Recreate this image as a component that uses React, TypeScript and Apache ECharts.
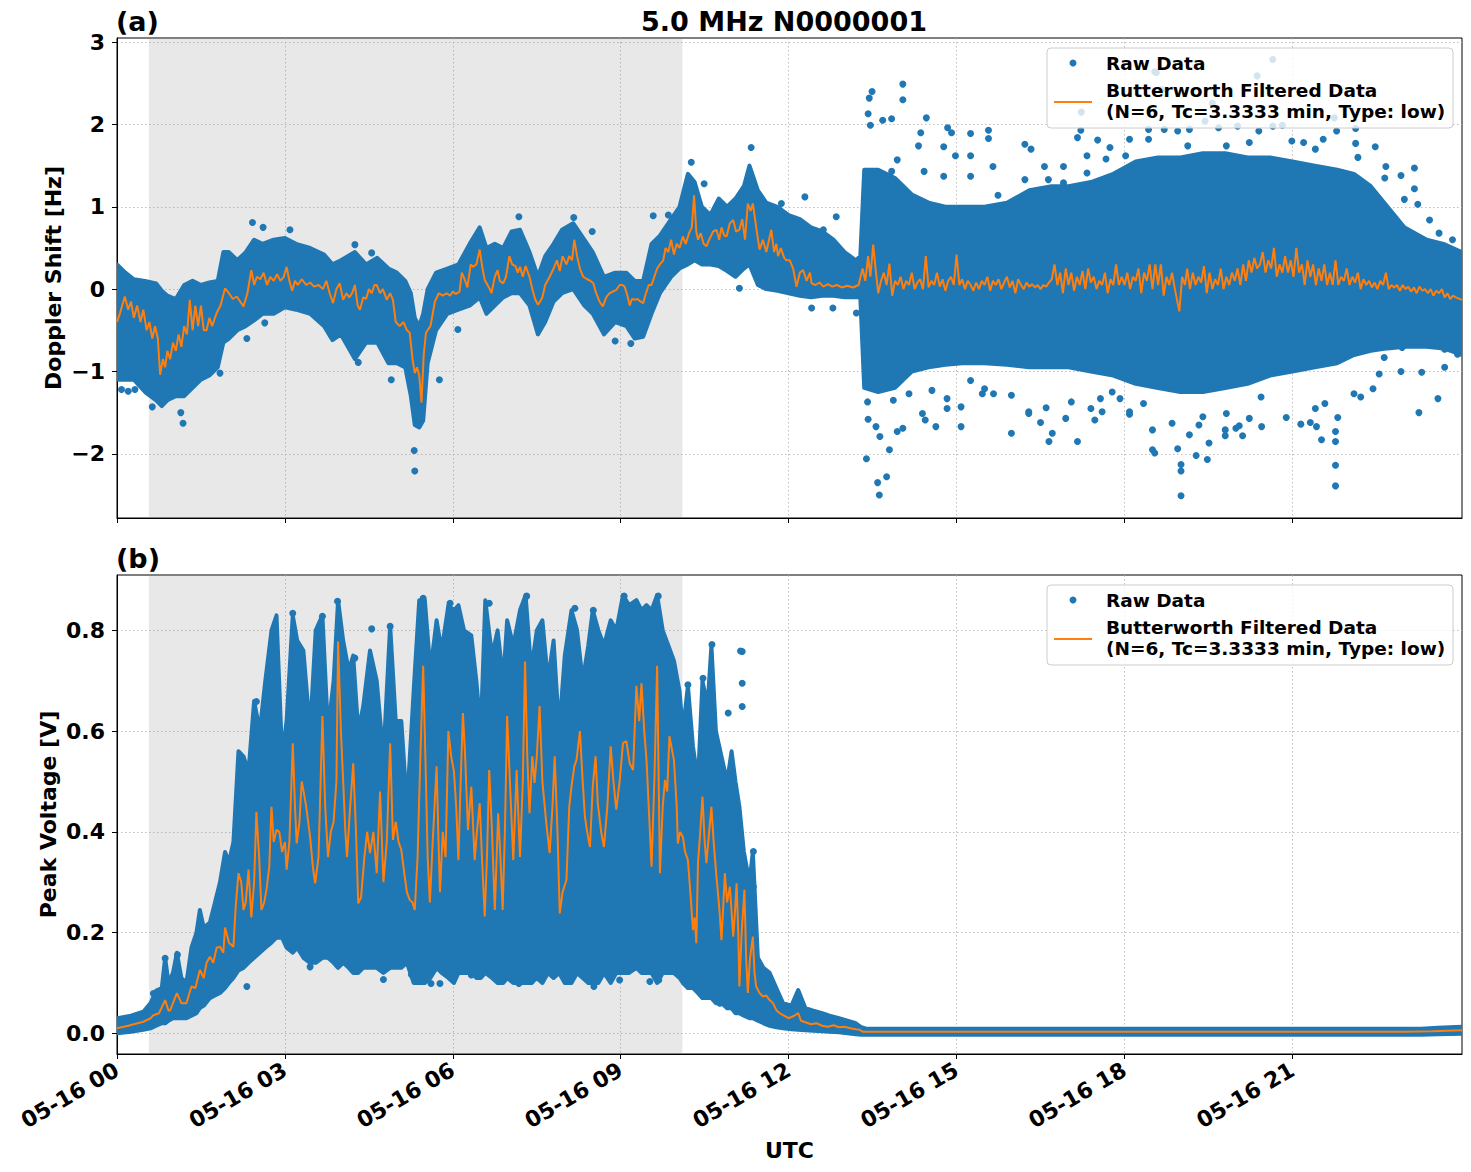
import React, { useEffect, useRef } from 'react';
import * as echarts from 'echarts';

const BLUE = '#1f77b4';
const ORANGE = '#ff7f0e';
const FONT = '"DejaVu Sans", "Liberation Sans", sans-serif';

const TITLE = '5.0 MHz N0000001';
const hourTicks = [0, 3, 6, 9, 12, 15, 18, 21];
const dopplerTicks = [-2, -1, 0, 1, 2, 3];
const voltageTicks = [0, 0.2, 0.4, 0.6, 0.8];
const nightSpan = [0.57, 10.1];
const legendRaw = 'Raw Data';
const legendFiltered = 'Butterworth Filtered Data';
const legendFilteredParams = '(N=6, Tc=3.3333 min, Type: low)';

// Doppler shift: dense raw cloud [hour, upper, lower]
const dopplerEnvelope: [number, number, number][] = [
  [0, 0.3, -1.1], [0.15, 0.2, -1.1], [0.3, 0.12, -1.1], [0.5, 0.1, -1.25], [0.7, 0.07, -1.35], [0.8, -0.02, -1.42], [0.9, -0.08, -1.35], [1.05, -0.12, -1.3], [1.2, 0.05, -1.3], [1.35, 0.1, -1.2],
  [1.5, 0.05, -1.1], [1.65, 0.08, -1.05], [1.8, 0.1, -0.95], [1.9, 0.45, -0.65], [2.0, 0.45, -0.6], [2.15, 0.35, -0.5], [2.3, 0.45, -0.45], [2.45, 0.6, -0.38], [2.6, 0.55, -0.3], [2.8, 0.6, -0.3],
  [3.0, 0.62, -0.22], [3.2, 0.55, -0.25], [3.45, 0.5, -0.3], [3.7, 0.42, -0.45], [3.85, 0.3, -0.62], [4.0, 0.35, -0.55], [4.25, 0.45, -0.85], [4.45, 0.3, -0.65], [4.65, 0.38, -0.65], [4.85, 0.25, -0.9],
  [5.0, 0.2, -0.9], [5.15, 0.1, -0.95], [5.25, -0.05, -1.3], [5.32, -0.35, -1.65], [5.4, -0.45, -1.68], [5.47, -0.3, -1.6], [5.55, 0.0, -0.9], [5.7, 0.2, -0.5], [5.9, 0.25, -0.3], [6.1, 0.3, -0.25],
  [6.3, 0.55, -0.2], [6.48, 0.75, -0.1], [6.6, 0.5, -0.3], [6.75, 0.55, -0.2], [6.9, 0.5, -0.1], [7.05, 0.7, -0.05], [7.2, 0.72, -0.05], [7.37, 0.45, -0.2], [7.52, 0.15, -0.55], [7.65, 0.4, -0.4],
  [7.8, 0.55, -0.15], [7.95, 0.72, -0.05], [8.15, 0.8, 0.0], [8.35, 0.6, -0.2], [8.5, 0.45, -0.3], [8.7, 0.15, -0.55], [8.9, 0.2, -0.4], [9.1, 0.2, -0.45], [9.25, 0.1, -0.6], [9.4, 0.1, -0.58],
  [9.55, 0.55, -0.3], [9.7, 0.65, -0.05], [9.9, 0.85, 0.15], [10.05, 1.0, 0.25], [10.2, 1.4, 0.3], [10.32, 1.3, 0.35], [10.45, 1.0, 0.3], [10.6, 0.9, 0.3], [10.75, 1.1, 0.28], [10.9, 1.0, 0.22],
  [11.05, 1.1, 0.15], [11.2, 1.25, 0.25], [11.3, 1.5, 0.3], [11.45, 1.2, 0.05], [11.6, 1.05, 0.0], [11.8, 1.0, -0.02], [12.0, 0.9, -0.05], [12.2, 0.85, -0.08], [12.4, 0.75, -0.1], [12.6, 0.7, -0.08],
  [12.8, 0.6, -0.08], [13.0, 0.45, -0.1], [13.2, 0.35, -0.1], [13.28, 0.4, -0.1], [13.35, 1.45, -1.2], [13.6, 1.45, -1.25], [13.9, 1.35, -1.2], [14.2, 1.15, -1.0], [14.5, 1.05, -0.95], [14.8, 1.0, -0.92],
  [15.1, 1.0, -0.9], [15.5, 1.0, -0.9], [15.9, 1.05, -0.92], [16.3, 1.2, -0.95], [16.7, 1.25, -0.95], [17.0, 1.25, -0.95], [17.4, 1.3, -1.0], [17.8, 1.4, -1.05], [18.2, 1.55, -1.15], [18.6, 1.6, -1.2],
  [19.0, 1.6, -1.25], [19.4, 1.65, -1.25], [19.8, 1.65, -1.2], [20.2, 1.6, -1.15], [20.6, 1.6, -1.05], [21.0, 1.55, -1.0], [21.4, 1.5, -0.95], [21.8, 1.45, -0.9], [22.1, 1.4, -0.8], [22.4, 1.25, -0.75],
  [22.7, 1.0, -0.72], [23.0, 0.75, -0.7], [23.4, 0.6, -0.7], [23.7, 0.55, -0.72], [24.03, 0.45, -0.8],
];

// Doppler shift: isolated raw points outside the dense cloud [hour, Hz]
const dopplerOutliers: [number, number][] = [
  [0.08, -1.22], [0.2, -1.24], [0.32, -1.22], [1.18, -1.63], [1.14, -1.5], [0.63, -1.43], [2.61, 0.75], [3.09, 0.72], [2.42, 0.81],
  [4.25, 0.54], [4.55, 0.44], [4.9, -1.1], [5.76, -1.1], [5.32, -2.21], [5.31, -1.96], [2.64, -0.41], [3.63, -0.36], [2.32, -0.6],
  [1.84, -1.02], [4.31, -0.89], [7.18, 0.88], [8.16, 0.87], [8.49, 0.7], [9.58, 0.89], [9.85, 0.9], [11.33, 1.72], [10.49, 1.28],
  [10.26, 1.54], [6.09, -0.49], [8.9, -0.63], [9.18, -0.66], [11.12, 0.01], [11.87, 1.04], [12.29, 1.12], [12.85, 0.88], [12.62, 0.72],
  [12.41, -0.23], [12.79, -0.23], [13.21, -0.29],
  [14.04, 2.49], [14.04, 2.3], [13.49, 2.4], [13.44, 2.32], [13.42, 2.13], [13.46, 1.99], [13.68, 2.05], [13.84, 2.07], [14.46, 2.08],
  [14.84, 1.96], [14.91, 1.9], [15.25, 1.89], [15.57, 1.93], [15.57, 1.83], [14.36, 1.9], [14.32, 1.74], [14.77, 1.73], [14.98, 1.62],
  [15.25, 1.62], [16.22, 1.76], [16.33, 1.7], [15.65, 1.49], [15.74, 1.14], [17.16, 1.84], [17.22, 1.93], [17.52, 1.81], [17.33, 1.62],
  [17.74, 1.72], [16.57, 1.49], [16.91, 1.49], [18.54, 2.64], [18.43, 1.94], [18.71, 1.94], [18.43, 1.82], [18.95, 1.92], [19.16, 1.94],
  [19.44, 2.04], [19.68, 1.96], [20.02, 1.98], [20.37, 2.59], [20.65, 2.79], [20.4, 1.92], [20.65, 1.98], [20.82, 1.99], [20.99, 1.8],
  [21.2, 1.78], [21.75, 2.08], [21.79, 1.92], [22.13, 1.95], [22.13, 1.77], [22.48, 1.73], [22.67, 1.49], [23.18, 1.47], [22.94, 1.38],
  [23.18, 1.22], [23.0, 1.09], [23.24, 1.03], [22.65, 1.35], [22.17, 1.6], [21.55, 1.82], [21.41, 1.7], [20.23, 1.78], [19.82, 1.74],
  [19.13, 1.74], [18.02, 1.62], [17.67, 1.58], [18.09, 1.82], [14.77, 1.37], [13.94, 1.57], [13.84, 1.43], [14.42, 1.43], [15.25, 1.37],
  [16.22, 1.33], [16.64, 1.33], [16.91, 1.29], [17.33, 1.41], [18.57, 2.63], [19.57, 2.26], [17.23, 2.15], [18.66, 2.42],
  [23.45, 0.84], [23.62, 0.68], [23.86, 0.6],
  [13.39, -2.06], [13.59, -2.35], [13.62, -2.5], [13.75, -2.28], [13.63, -1.79], [13.8, -1.95], [13.94, -1.73], [14.04, -1.69], [13.56, -1.67],
  [13.42, -1.58], [13.41, -1.37], [13.87, -1.35], [14.15, -1.27], [14.39, -1.51], [14.44, -1.59], [14.63, -1.67], [14.83, -1.45], [14.83, -1.33],
  [15.08, -1.43], [15.08, -1.67], [15.25, -1.11], [15.5, -1.21], [15.66, -1.27], [15.98, -1.75], [15.98, -1.29], [16.29, -1.51], [16.5, -1.62],
  [16.6, -1.44], [16.65, -1.85], [16.71, -1.75], [16.95, -1.57], [17.16, -1.85], [17.05, -1.37], [17.4, -1.45], [17.47, -1.59], [17.57, -1.33],
  [17.78, -1.25], [17.92, -1.33], [18.09, -1.49], [18.34, -1.39], [18.5, -1.71], [18.5, -1.95], [18.54, -1.99], [18.85, -1.63], [18.95, -1.94],
  [19.01, -2.13], [19.01, -2.21], [19.01, -2.51], [19.16, -1.77], [19.28, -2.02], [19.33, -1.65], [19.48, -2.07], [19.51, -1.87], [19.8, -1.71],
  [19.8, -1.78], [20.11, -1.78], [19.99, -1.69], [20.23, -1.57], [20.45, -1.67], [20.89, -1.56], [21.15, -1.64], [21.32, -1.62], [21.43, -1.67],
  [21.52, -1.83], [21.77, -1.73], [21.77, -1.85], [21.77, -2.14], [21.77, -2.39], [21.81, -1.56], [21.58, -1.39], [21.41, -1.45], [22.22, -1.31],
  [22.44, -1.21], [22.55, -1.03], [22.94, -1.0], [23.26, -1.5], [23.6, -1.33], [23.72, -0.95], [23.31, -1.01], [22.96, -0.71], [23.72, -0.73],
  [22.1, -1.27], [20.44, -1.31], [19.82, -1.51], [19.4, -1.55], [17.6, -1.49], [16.29, -1.49], [15.46, -1.27], [14.56, -1.23],
  [18.09, -1.52], [20.05, -1.66], [22.64, -0.83], [23.95, -0.79],
];

// Doppler shift: Butterworth filtered curve [hour, Hz]
const dopplerFiltered: [number, number][] = [
  [0, -0.4], [0.05, -0.3], [0.14, -0.09], [0.2, -0.25], [0.25, -0.15], [0.3, -0.35], [0.36, -0.2], [0.42, -0.4], [0.47, -0.25], [0.53, -0.5],
  [0.58, -0.4], [0.63, -0.6], [0.68, -0.45], [0.73, -0.6], [0.77, -1.04], [0.82, -0.85], [0.86, -0.95], [0.9, -0.75], [0.95, -0.85], [1.0, -0.65],
  [1.05, -0.75], [1.1, -0.55], [1.15, -0.7], [1.2, -0.45], [1.25, -0.55], [1.3, -0.13], [1.35, -0.5], [1.4, -0.2], [1.45, -0.45], [1.5, -0.2],
  [1.55, -0.5], [1.6, -0.5], [1.65, -0.35], [1.7, -0.45], [1.78, -0.29], [1.85, -0.2], [1.93, 0.01], [2.0, -0.05], [2.07, -0.12], [2.14, -0.09],
  [2.2, -0.15], [2.26, -0.21], [2.33, -0.05], [2.4, 0.23], [2.45, 0.05], [2.5, 0.15], [2.56, 0.12], [2.62, 0.2], [2.68, 0.05], [2.74, 0.15],
  [2.8, 0.1], [2.86, 0.18], [2.92, 0.1], [2.98, 0.15], [3.03, 0.27], [3.08, 0.1], [3.13, -0.02], [3.18, 0.1], [3.23, 0.05], [3.3, 0.12],
  [3.38, 0.05], [3.45, 0.08], [3.52, 0.03], [3.6, 0.05], [3.68, 0.0], [3.74, 0.1], [3.8, -0.05], [3.86, -0.17], [3.92, 0.0], [3.98, 0.07],
  [4.04, -0.13], [4.1, -0.05], [4.15, -0.1], [4.2, -0.05], [4.25, 0.05], [4.3, -0.2], [4.34, -0.25], [4.4, -0.1], [4.45, -0.12], [4.5, 0.0],
  [4.55, -0.05], [4.6, 0.05], [4.64, 0.05], [4.7, -0.05], [4.75, 0.0], [4.82, -0.13], [4.88, -0.05], [4.93, -0.13], [4.98, -0.4], [5.05, -0.45],
  [5.12, -0.4], [5.18, -0.5], [5.23, -0.53], [5.28, -0.85], [5.32, -1.02], [5.36, -0.95], [5.4, -1.05], [5.44, -1.38], [5.48, -0.8], [5.52, -0.53],
  [5.6, -0.45], [5.68, -0.15], [5.75, -0.05], [5.82, -0.08], [5.89, -0.05], [5.95, -0.08], [6.0, -0.03], [6.05, -0.06], [6.12, -0.03], [6.16, 0.2],
  [6.21, 0.12], [6.26, 0.02], [6.32, 0.3], [6.36, 0.27], [6.42, 0.3], [6.48, 0.48], [6.53, 0.25], [6.57, 0.11], [6.62, 0.05], [6.66, 0.0],
  [6.69, -0.05], [6.75, 0.15], [6.8, 0.23], [6.84, 0.1], [6.9, 0.07], [6.95, 0.15], [7.01, 0.4], [7.06, 0.3], [7.12, 0.28], [7.16, 0.2],
  [7.2, 0.27], [7.25, 0.15], [7.3, 0.28], [7.37, 0.15], [7.42, 0.0], [7.47, -0.12], [7.52, -0.19], [7.56, -0.15], [7.6, -0.1], [7.65, 0.05],
  [7.73, 0.15], [7.8, 0.25], [7.86, 0.35], [7.91, 0.22], [7.96, 0.4], [8.03, 0.3], [8.08, 0.4], [8.13, 0.35], [8.17, 0.6], [8.22, 0.4],
  [8.27, 0.25], [8.33, 0.15], [8.4, 0.12], [8.46, 0.1], [8.51, 0.07], [8.56, -0.05], [8.62, -0.15], [8.68, -0.21], [8.74, -0.1], [8.8, -0.05],
  [8.86, -0.03], [8.92, -0.01], [8.98, 0.05], [9.03, 0.05], [9.07, 0.03], [9.12, -0.08], [9.16, -0.2], [9.2, -0.12], [9.25, -0.13], [9.3, -0.12],
  [9.35, -0.15], [9.4, -0.17], [9.45, -0.05], [9.5, 0.05], [9.55, 0.05], [9.6, 0.15], [9.65, 0.25], [9.7, 0.3], [9.76, 0.35], [9.8, 0.5],
  [9.85, 0.45], [9.9, 0.6], [9.95, 0.42], [10.0, 0.55], [10.05, 0.5], [10.11, 0.64], [10.16, 0.55], [10.22, 0.68], [10.27, 0.75], [10.31, 1.14],
  [10.35, 0.7], [10.38, 0.6], [10.43, 0.68], [10.48, 0.55], [10.53, 0.52], [10.58, 0.6], [10.65, 0.7], [10.71, 0.72], [10.76, 0.6], [10.8, 0.75],
  [10.85, 0.65], [10.89, 0.64], [10.95, 0.8], [11.01, 0.84], [11.06, 0.7], [11.12, 0.72], [11.17, 0.85], [11.22, 0.6], [11.27, 1.04], [11.32, 0.95],
  [11.36, 1.04], [11.42, 0.75], [11.48, 0.48], [11.54, 0.6], [11.6, 0.45], [11.65, 0.6], [11.69, 0.72], [11.74, 0.45], [11.78, 0.55], [11.81, 0.4],
  [11.86, 0.5], [11.92, 0.38], [11.96, 0.35], [12.02, 0.35], [12.08, 0.25], [12.14, 0.03], [12.2, 0.2], [12.26, 0.23], [12.32, 0.1], [12.38, 0.2],
  [12.41, 0.07], [12.48, 0.05], [12.55, 0.08], [12.62, 0.03], [12.7, 0.06], [12.78, 0.03], [12.86, 0.05], [12.95, 0.02], [13.05, 0.04], [13.15, 0.02],
  [13.25, 0.05], [13.32, 0.25], [13.37, 0.1], [13.42, 0.4], [13.46, 0.15], [13.51, 0.54], [13.56, 0.2], [13.6, -0.05], [13.65, 0.1], [13.7, 0.2],
  [13.75, 0.05], [13.8, 0.31], [13.85, -0.08], [13.9, 0.1], [13.95, 0.05], [14.0, 0.15], [14.05, 0.0], [14.1, 0.1], [14.15, 0.05], [14.2, 0.2],
  [14.25, 0.0], [14.3, 0.08], [14.35, 0.12], [14.4, 0.0], [14.45, 0.4], [14.5, 0.02], [14.55, 0.1], [14.6, 0.05], [14.65, 0.2], [14.7, 0.03],
  [14.75, 0.12], [14.8, -0.02], [14.85, 0.1], [14.9, 0.15], [14.95, 0.05], [15.0, 0.42], [15.05, 0.05], [15.1, 0.12], [15.15, 0.0], [15.2, 0.1],
  [15.25, 0.05], [15.3, -0.02], [15.35, 0.08], [15.4, 0.0], [15.45, 0.1], [15.5, 0.05], [15.55, 0.15], [15.6, -0.02], [15.65, 0.1], [15.7, 0.05],
  [15.75, 0.12], [15.8, 0.0], [15.85, 0.08], [15.9, 0.15], [15.95, 0.02], [16.0, 0.1], [16.05, -0.05], [16.1, 0.12], [16.15, 0.05], [16.2, 0.0],
  [16.25, 0.08], [16.3, 0.03], [16.35, 0.06], [16.4, 0.02], [16.45, 0.05], [16.5, 0.0], [16.55, 0.05], [16.6, 0.03], [16.65, 0.08], [16.7, 0.12],
  [16.75, 0.3], [16.8, 0.05], [16.85, 0.2], [16.9, -0.05], [16.95, 0.25], [17.0, 0.05], [17.05, 0.2], [17.1, -0.02], [17.15, 0.15], [17.2, 0.05],
  [17.25, 0.22], [17.3, 0.0], [17.35, 0.25], [17.4, 0.08], [17.45, 0.15], [17.5, 0.0], [17.55, 0.1], [17.6, 0.05], [17.65, 0.2], [17.7, -0.05],
  [17.75, 0.12], [17.8, 0.05], [17.85, 0.3], [17.9, 0.05], [17.95, 0.15], [18.0, 0.05], [18.05, 0.2], [18.1, 0.0], [18.15, 0.15], [18.2, 0.1],
  [18.25, 0.25], [18.3, -0.05], [18.35, 0.2], [18.4, 0.1], [18.45, 0.3], [18.5, 0.0], [18.55, 0.3], [18.6, 0.05], [18.65, 0.3], [18.7, -0.08],
  [18.75, 0.15], [18.8, 0.05], [18.85, 0.2], [18.9, 0.0], [18.98, -0.27], [19.03, 0.15], [19.08, 0.05], [19.12, 0.25], [19.17, 0.0], [19.22, 0.2],
  [19.27, 0.05], [19.32, 0.15], [19.37, 0.08], [19.42, 0.28], [19.47, -0.05], [19.52, 0.2], [19.57, 0.0], [19.62, 0.12], [19.67, 0.05], [19.72, 0.25],
  [19.77, 0.0], [19.82, 0.15], [19.87, 0.05], [19.92, 0.2], [19.97, 0.1], [20.02, 0.25], [20.07, 0.05], [20.12, 0.3], [20.17, 0.1], [20.22, 0.35],
  [20.27, 0.2], [20.32, 0.38], [20.37, 0.25], [20.42, 0.3], [20.47, 0.45], [20.52, 0.2], [20.57, 0.35], [20.62, 0.25], [20.67, 0.5], [20.72, 0.15],
  [20.77, 0.3], [20.82, 0.2], [20.87, 0.4], [20.92, 0.2], [20.97, 0.35], [21.02, 0.15], [21.07, 0.5], [21.12, 0.2], [21.17, 0.3], [21.22, 0.05],
  [21.27, 0.35], [21.32, 0.15], [21.37, 0.3], [21.42, 0.05], [21.47, 0.25], [21.52, 0.1], [21.57, 0.3], [21.62, 0.05], [21.67, 0.2], [21.72, 0.05],
  [21.77, 0.35], [21.82, 0.05], [21.87, 0.15], [21.92, 0.1], [21.97, 0.25], [22.02, 0.05], [22.07, 0.15], [22.12, 0.08], [22.17, 0.2], [22.22, 0.0],
  [22.27, 0.12], [22.32, 0.05], [22.37, 0.1], [22.42, 0.02], [22.47, 0.08], [22.52, 0.0], [22.57, 0.1], [22.62, 0.05], [22.67, 0.2], [22.72, 0.0],
  [22.77, 0.05], [22.82, 0.02], [22.87, 0.05], [22.92, -0.02], [22.97, 0.05], [23.02, 0.0], [23.07, 0.03], [23.12, -0.03], [23.17, 0.02], [23.22, -0.05],
  [23.27, 0.03], [23.32, -0.02], [23.37, 0.0], [23.42, -0.05], [23.47, 0.0], [23.52, -0.08], [23.57, -0.02], [23.62, -0.05], [23.67, 0.0], [23.72, -0.1],
  [23.77, -0.05], [23.82, -0.12], [23.87, -0.08], [23.92, -0.1], [24.03, -0.13],
];

// Peak voltage: dense raw cloud [hour, upper, lower]
const voltageEnvelope: [number, number, number][] = [
  [0, 0.03, 0.0], [0.25, 0.035, 0.003], [0.47, 0.043, 0.007], [0.6, 0.06, 0.01], [0.7, 0.085, 0.015], [0.8, 0.09, 0.02], [0.86, 0.15, 0.02], [0.92, 0.1, 0.025], [1.0, 0.12, 0.03], [1.07, 0.16, 0.03],
  [1.15, 0.11, 0.03], [1.24, 0.1, 0.03], [1.33, 0.17, 0.035], [1.42, 0.2, 0.04], [1.48, 0.245, 0.05], [1.55, 0.21, 0.055], [1.66, 0.22, 0.07], [1.75, 0.26, 0.075], [1.84, 0.3, 0.08], [1.93, 0.36, 0.09],
  [2.0, 0.34, 0.1], [2.08, 0.38, 0.11], [2.17, 0.56, 0.125], [2.26, 0.55, 0.13], [2.35, 0.52, 0.14], [2.45, 0.66, 0.15], [2.55, 0.6, 0.16], [2.65, 0.7, 0.17], [2.76, 0.8, 0.18], [2.85, 0.83, 0.19],
  [2.95, 0.55, 0.19], [3.03, 0.62, 0.17], [3.14, 0.83, 0.16], [3.22, 0.78, 0.17], [3.33, 0.76, 0.15], [3.45, 0.6, 0.14], [3.55, 0.8, 0.14], [3.67, 0.83, 0.15], [3.77, 0.6, 0.15], [3.87, 0.7, 0.14],
  [3.95, 0.86, 0.13], [4.04, 0.78, 0.14], [4.14, 0.72, 0.13], [4.22, 0.75, 0.12], [4.31, 0.6, 0.12], [4.4, 0.65, 0.13], [4.52, 0.76, 0.13], [4.64, 0.7, 0.13], [4.76, 0.55, 0.12], [4.88, 0.81, 0.13],
  [4.98, 0.62, 0.13], [5.08, 0.62, 0.13], [5.18, 0.45, 0.14], [5.3, 0.68, 0.1], [5.4, 0.86, 0.1], [5.5, 0.86, 0.1], [5.6, 0.72, 0.11], [5.71, 0.82, 0.13], [5.8, 0.76, 0.12], [5.92, 0.85, 0.11],
  [6.02, 0.84, 0.1], [6.1, 0.85, 0.12], [6.2, 0.8, 0.12], [6.33, 0.79, 0.12], [6.42, 0.7, 0.11], [6.5, 0.6, 0.11], [6.58, 0.86, 0.12], [6.7, 0.75, 0.11], [6.8, 0.8, 0.1], [6.9, 0.7, 0.1],
  [6.97, 0.82, 0.11], [7.08, 0.77, 0.1], [7.2, 0.84, 0.1], [7.3, 0.87, 0.1], [7.4, 0.72, 0.1], [7.5, 0.8, 0.11], [7.6, 0.82, 0.1], [7.7, 0.7, 0.12], [7.8, 0.78, 0.11], [7.9, 0.6, 0.12],
  [8.0, 0.75, 0.1], [8.12, 0.84, 0.1], [8.22, 0.8, 0.12], [8.32, 0.7, 0.11], [8.42, 0.77, 0.1], [8.5, 0.84, 0.1], [8.6, 0.8, 0.1], [8.7, 0.77, 0.12], [8.82, 0.82, 0.1], [8.92, 0.8, 0.12],
  [9.04, 0.87, 0.12], [9.15, 0.85, 0.12], [9.28, 0.86, 0.13], [9.37, 0.84, 0.12], [9.46, 0.85, 0.12], [9.55, 0.84, 0.12], [9.65, 0.87, 0.1], [9.75, 0.8, 0.12], [9.85, 0.77, 0.12], [9.95, 0.74, 0.12],
  [10.05, 0.68, 0.11], [10.11, 0.6, 0.1], [10.2, 0.69, 0.09], [10.29, 0.57, 0.09], [10.38, 0.5, 0.08], [10.46, 0.7, 0.07], [10.55, 0.65, 0.07], [10.62, 0.77, 0.07], [10.7, 0.6, 0.06], [10.8, 0.55, 0.06],
  [10.9, 0.5, 0.05], [10.98, 0.56, 0.05], [11.05, 0.5, 0.04], [11.12, 0.45, 0.04], [11.2, 0.36, 0.035], [11.3, 0.3, 0.03], [11.36, 0.36, 0.03], [11.45, 0.15, 0.025], [11.55, 0.13, 0.02], [11.66, 0.12, 0.015],
  [11.78, 0.09, 0.012], [11.9, 0.06, 0.01], [12.05, 0.055, 0.008], [12.17, 0.086, 0.007], [12.3, 0.05, 0.006], [12.44, 0.045, 0.005], [12.6, 0.04, 0.004], [12.73, 0.035, 0.003], [12.9, 0.03, 0.002], [13.05, 0.025, 0.0],
  [13.2, 0.02, -0.002], [13.3, 0.012, -0.003], [13.4, 0.009, -0.003], [23.3, 0.009, -0.003], [23.6, 0.011, -0.002], [24.03, 0.013, -0.001],
];

// Peak voltage: isolated raw points [hour, V]
const voltageOutliers: [number, number][] = [
  [0.65, 0.079], [0.86, 0.149], [1.08, 0.156], [2.49, 0.659], [2.81, 0.803], [3.14, 0.834], [3.67, 0.828], [3.94, 0.858], [4.55, 0.803],
  [4.25, 0.745], [4.88, 0.808], [5.47, 0.864], [5.95, 0.854], [2.32, 0.093], [3.45, 0.132], [4.76, 0.107], [5.26, 0.117], [5.61, 0.099],
  [5.77, 0.099], [6.65, 0.854], [7.32, 0.868], [8.18, 0.844], [8.51, 0.84], [9.06, 0.868], [9.67, 0.868], [10.63, 0.772], [11.17, 0.758],
  [11.17, 0.695], [11.17, 0.649], [10.92, 0.636], [10.2, 0.692], [10.47, 0.705], [11.37, 0.361], [11.37, 0.291], [6.12, 0.126], [6.33, 0.116],
  [6.9, 0.109], [7.18, 0.099], [7.4, 0.103], [8.03, 0.106], [8.52, 0.093], [8.98, 0.106], [9.52, 0.103], [9.68, 0.106], [10.14, 0.129],
  [10.49, 0.073], [10.77, 0.06], [11.14, 0.759],
];

// Peak voltage: Butterworth filtered curve [hour, V]
const voltageFiltered: [number, number][] = [
  [0, 0.01], [0.2, 0.015], [0.47, 0.023], [0.6, 0.03], [0.65, 0.036], [0.75, 0.04], [0.86, 0.066], [0.92, 0.045], [0.95, 0.046], [1.0, 0.06],
  [1.07, 0.08], [1.15, 0.06], [1.24, 0.06], [1.33, 0.093], [1.4, 0.09], [1.48, 0.126], [1.55, 0.11], [1.6, 0.14], [1.66, 0.152], [1.72, 0.14],
  [1.78, 0.17], [1.84, 0.172], [1.9, 0.16], [1.93, 0.21], [2.0, 0.18], [2.08, 0.172], [2.12, 0.25], [2.17, 0.318], [2.22, 0.3], [2.26, 0.245],
  [2.3, 0.26], [2.35, 0.325], [2.4, 0.23], [2.45, 0.3], [2.49, 0.44], [2.54, 0.35], [2.58, 0.245], [2.63, 0.26], [2.67, 0.285], [2.72, 0.33],
  [2.76, 0.45], [2.8, 0.38], [2.85, 0.404], [2.9, 0.4], [2.95, 0.36], [3.0, 0.38], [3.03, 0.325], [3.08, 0.38], [3.14, 0.576], [3.18, 0.45],
  [3.21, 0.377], [3.26, 0.42], [3.3, 0.5], [3.33, 0.483], [3.38, 0.45], [3.45, 0.39], [3.5, 0.33], [3.54, 0.298], [3.6, 0.35], [3.67, 0.63],
  [3.72, 0.45], [3.77, 0.35], [3.82, 0.4], [3.87, 0.42], [3.92, 0.5], [3.95, 0.778], [4.0, 0.6], [4.04, 0.503], [4.08, 0.4], [4.11, 0.35],
  [4.16, 0.44], [4.22, 0.536], [4.27, 0.4], [4.31, 0.258], [4.36, 0.27], [4.42, 0.35], [4.47, 0.4], [4.52, 0.358], [4.58, 0.4], [4.64, 0.318],
  [4.7, 0.48], [4.76, 0.3], [4.82, 0.38], [4.88, 0.576], [4.93, 0.384], [4.98, 0.42], [5.03, 0.38], [5.08, 0.364], [5.13, 0.32], [5.18, 0.28],
  [5.23, 0.265], [5.28, 0.26], [5.32, 0.245], [5.37, 0.35], [5.42, 0.55], [5.47, 0.73], [5.52, 0.5], [5.55, 0.35], [5.59, 0.26], [5.64, 0.38],
  [5.71, 0.53], [5.74, 0.4], [5.77, 0.28], [5.82, 0.4], [5.87, 0.35], [5.92, 0.6], [5.97, 0.55], [6.02, 0.52], [6.06, 0.45], [6.1, 0.344],
  [6.14, 0.5], [6.18, 0.636], [6.22, 0.55], [6.27, 0.404], [6.33, 0.49], [6.39, 0.344], [6.43, 0.4], [6.48, 0.457], [6.52, 0.35], [6.57, 0.232],
  [6.61, 0.35], [6.65, 0.523], [6.7, 0.4], [6.75, 0.245], [6.81, 0.437], [6.85, 0.35], [6.89, 0.245], [6.93, 0.4], [6.97, 0.63], [7.02, 0.5],
  [7.08, 0.344], [7.14, 0.523], [7.2, 0.35], [7.25, 0.5], [7.29, 0.738], [7.33, 0.55], [7.37, 0.437], [7.42, 0.55], [7.46, 0.497], [7.5, 0.55],
  [7.55, 0.65], [7.6, 0.5], [7.67, 0.417], [7.73, 0.358], [7.78, 0.45], [7.82, 0.55], [7.87, 0.4], [7.91, 0.238], [7.96, 0.28], [8.03, 0.305],
  [8.08, 0.45], [8.12, 0.49], [8.17, 0.53], [8.21, 0.543], [8.27, 0.6], [8.32, 0.5], [8.36, 0.43], [8.4, 0.4], [8.45, 0.37], [8.5, 0.49],
  [8.55, 0.55], [8.59, 0.457], [8.65, 0.4], [8.7, 0.37], [8.76, 0.45], [8.82, 0.57], [8.87, 0.5], [8.92, 0.444], [8.98, 0.5], [9.04, 0.576],
  [9.1, 0.58], [9.16, 0.536], [9.22, 0.523], [9.28, 0.69], [9.33, 0.62], [9.37, 0.695], [9.42, 0.6], [9.46, 0.543], [9.5, 0.45], [9.55, 0.331],
  [9.6, 0.5], [9.65, 0.73], [9.7, 0.318], [9.75, 0.45], [9.79, 0.503], [9.83, 0.48], [9.87, 0.59], [9.95, 0.543], [10.0, 0.45], [10.02, 0.377],
  [10.06, 0.4], [10.11, 0.39], [10.15, 0.36], [10.2, 0.344], [10.25, 0.27], [10.29, 0.205], [10.32, 0.23], [10.35, 0.179], [10.38, 0.338], [10.42, 0.4],
  [10.46, 0.47], [10.5, 0.38], [10.53, 0.338], [10.58, 0.4], [10.62, 0.45], [10.66, 0.38], [10.71, 0.311], [10.76, 0.25], [10.8, 0.185], [10.83, 0.25],
  [10.86, 0.318], [10.9, 0.26], [10.95, 0.291], [11.01, 0.192], [11.04, 0.24], [11.07, 0.298], [11.1, 0.2], [11.12, 0.093], [11.16, 0.2], [11.21, 0.285],
  [11.24, 0.15], [11.27, 0.08], [11.31, 0.15], [11.36, 0.192], [11.39, 0.12], [11.42, 0.093], [11.48, 0.08], [11.54, 0.073], [11.6, 0.075], [11.66, 0.066],
  [11.72, 0.06], [11.78, 0.046], [11.84, 0.04], [11.9, 0.036], [12.0, 0.03], [12.1, 0.035], [12.17, 0.04], [12.22, 0.025], [12.3, 0.022], [12.4, 0.018],
  [12.5, 0.02], [12.6, 0.015], [12.7, 0.013], [12.8, 0.016], [12.9, 0.012], [13.0, 0.013], [13.1, 0.01], [13.2, 0.008], [13.27, 0.007], [13.33, 0.003],
  [23.0, 0.003], [23.5, 0.004], [24.03, 0.006],
];

const hourLabel = (v: number) => '05-16 ' + String(Math.round(v)).padStart(2, '0');

function bandSeries(idx: number, env: [number, number, number][]) {
  return {
    type: 'custom',
    name: legendRaw,
    xAxisIndex: idx,
    yAxisIndex: idx,
    z: 3,
    silent: true,
    clip: true,
    data: [[env[0][0], env[0][1]]],
    renderItem: (_params: any, api: any) => {
      const pts: number[][] = [];
      for (let i = 0; i < env.length; i++) pts.push(api.coord([env[i][0], env[i][1]]));
      for (let i = env.length - 1; i >= 0; i--) pts.push(api.coord([env[i][0], env[i][2]]));
      return {
        type: 'polygon',
        shape: { points: pts },
        style: { fill: BLUE, stroke: BLUE, lineWidth: 4, lineJoin: 'round' },
      };
    },
  };
}

function legendGroup(top: number) {
  const font = (t: string) => ({ text: t, fontFamily: FONT, fontWeight: 'bold', fontSize: 18.5, fill: '#000', verticalAlign: 'middle', align: 'left' });
  return [
    { type: 'rect', z: 100, shape: { x: 1047, y: top, width: 406, height: 80, r: 4 }, style: { fill: 'rgba(255,255,255,0.8)', stroke: '#cccccc', lineWidth: 1 } },
    { type: 'circle', z: 101, shape: { cx: 1073, cy: top + 15, r: 3.5 }, style: { fill: BLUE } },
    { type: 'text', z: 101, x: 1106, y: top + 15, style: font(legendRaw) },
    { type: 'line', z: 101, shape: { x1: 1054, y1: top + 54, x2: 1092, y2: top + 54 }, style: { stroke: ORANGE, lineWidth: 2 } },
    { type: 'text', z: 101, x: 1106, y: top + 42, style: font(legendFiltered) },
    { type: 'text', z: 101, x: 1106, y: top + 63, style: font(legendFilteredParams) },
  ];
}

export default function App() {
  const ref = useRef<HTMLDivElement>(null);
  useEffect(() => {
    if (!ref.current) return;
    const chart = echarts.init(ref.current, null, { renderer: 'svg' });
    const axisFont = { fontFamily: FONT, fontWeight: 'bold' as const, fontSize: 22, color: '#000' };
    const splitLine = { show: true, lineStyle: { color: '#b0b0b0', type: [1.5, 2.5] as any, width: 0.8 } };
    const xBase = (idx: number) => ({
      type: 'value',
      gridIndex: idx,
      min: 0,
      max: 24.03,
      axisLine: { show: true, onZero: false, lineStyle: { color: '#000', width: 1 } },
      axisTick: { show: true, customValues: hourTicks, length: 5, lineStyle: { color: '#000', width: 1 } },
      axisLabel: idx === 0 ? { show: false, customValues: hourTicks } : { show: true, customValues: hourTicks, rotate: 30, margin: 14, formatter: hourLabel, ...axisFont },
      splitLine,
      name: idx === 1 ? 'UTC' : '',
      nameLocation: 'middle',
      nameGap: 85,
      nameTextStyle: axisFont,
    });
    const option: any = {
      animation: false,
      backgroundColor: '#ffffff',
      textStyle: { fontFamily: FONT },
      grid: [
        { left: 117, top: 38, width: 1345, height: 480, show: true, borderColor: '#000', borderWidth: 1, backgroundColor: 'transparent' },
        { left: 117, top: 575, width: 1345, height: 479, show: true, borderColor: '#000', borderWidth: 1, backgroundColor: 'transparent' },
      ],
      xAxis: [xBase(0), xBase(1)],
      yAxis: [
        {
          type: 'value', gridIndex: 0, min: -2.78, max: 3.05,
          axisLine: { show: true, lineStyle: { color: '#000', width: 1 } },
          axisTick: { show: true, customValues: dopplerTicks, length: 5, lineStyle: { color: '#000' } },
          axisLabel: { customValues: dopplerTicks, margin: 12, formatter: (v: number) => String(Math.round(v)).replace('-', '\u2212'), ...axisFont },
          splitLine,
          name: 'Doppler Shift [Hz]', nameLocation: 'middle', nameGap: 53, nameMoveOverlap: false, nameTextStyle: axisFont,
        },
        {
          type: 'value', gridIndex: 1, min: -0.041, max: 0.91,
          axisLine: { show: true, lineStyle: { color: '#000', width: 1 } },
          axisTick: { show: true, customValues: voltageTicks, length: 5, lineStyle: { color: '#000' } },
          axisLabel: { customValues: voltageTicks, margin: 12, formatter: (v: number) => v.toFixed(1), ...axisFont },
          splitLine,
          name: 'Peak Voltage [V]', nameLocation: 'middle', nameGap: 58, nameMoveOverlap: false, nameTextStyle: axisFont,
        },
      ],
      series: [
        ...[0, 1].map((idx) => ({
          type: 'scatter', xAxisIndex: idx, yAxisIndex: idx, data: [], z: 1, silent: true,
          markArea: {
            silent: true,
            itemStyle: { color: 'rgba(140,140,140,0.2)' },
            data: [[{ xAxis: nightSpan[0] }, { xAxis: nightSpan[1] }]],
          },
        })),
        bandSeries(0, dopplerEnvelope),
        bandSeries(1, voltageEnvelope),
        { type: 'scatter', name: legendRaw, xAxisIndex: 0, yAxisIndex: 0, data: dopplerOutliers, symbolSize: 7, itemStyle: { color: BLUE, opacity: 1 }, z: 4, silent: true },
        { type: 'scatter', name: legendRaw, xAxisIndex: 1, yAxisIndex: 1, data: voltageOutliers, symbolSize: 7, itemStyle: { color: BLUE, opacity: 1 }, z: 4, silent: true },
        { type: 'line', name: legendFiltered, xAxisIndex: 0, yAxisIndex: 0, data: dopplerFiltered, showSymbol: false, symbol: 'none', lineStyle: { color: ORANGE, width: 2 }, z: 5, silent: true },
        { type: 'line', name: legendFiltered, xAxisIndex: 1, yAxisIndex: 1, data: voltageFiltered, showSymbol: false, symbol: 'none', lineStyle: { color: ORANGE, width: 2 }, z: 5, silent: true },
      ],
      graphic: [
        { type: 'text', z: 100, x: 784, y: 21, style: { text: TITLE, fontFamily: FONT, fontWeight: 'bold', fontSize: 27, fill: '#000', align: 'center', verticalAlign: 'middle' } },
        { type: 'text', z: 100, x: 116, y: 21, style: { text: '(a)', fontFamily: FONT, fontWeight: 'bold', fontSize: 27, fill: '#000', align: 'left', verticalAlign: 'middle' } },
        { type: 'text', z: 100, x: 116, y: 558, style: { text: '(b)', fontFamily: FONT, fontWeight: 'bold', fontSize: 27, fill: '#000', align: 'left', verticalAlign: 'middle' } },
        ...legendGroup(48),
        ...legendGroup(585),
      ],
    };
    chart.setOption(option);
    return () => chart.dispose();
  }, []);
  return <div ref={ref} style={{ position: 'fixed', left: 0, top: 0, width: 1471, height: 1172 }} />;
}
